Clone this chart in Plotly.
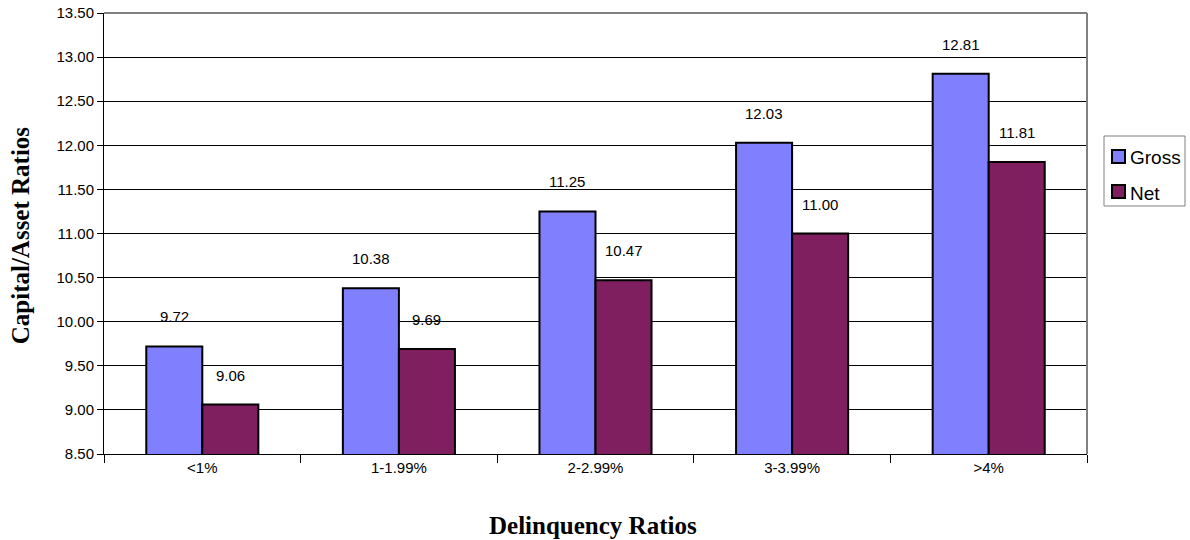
import plotly.graph_objects as go

categories = ["<1%", "1-1.99%", "2-2.99%", "3-3.99%", ">4%"]
gross = [9.72, 10.38, 11.25, 12.03, 12.81]
net = [9.06, 9.69, 10.47, 11.00, 11.81]
y_ticks = [8.5, 9.0, 9.5, 10.0, 10.5, 11.0, 11.5, 12.0, 12.5, 13.0, 13.5]

GROSS_COLOR = "#8080FF"
NET_COLOR = "#7F1F5F"
SANS = "Liberation Sans, Arial"
SERIF = "Liberation Serif, Times New Roman"

W, H = 1190, 540
M_L, M_R, M_T, M_B = 104, 103, 13, 86
PW, PH = W - M_L - M_R, H - M_T - M_B


def px_x(px):
    return (px - M_L) / PW


def px_y(py):
    return (H - M_B - py) / PH


fig = go.Figure()
fig.add_trace(go.Bar(x=categories, y=gross, name="Gross",
                     marker=dict(color=GROSS_COLOR, line=dict(color="black", width=2))))
fig.add_trace(go.Bar(x=categories, y=net, name="Net",
                     marker=dict(color=NET_COLOR, line=dict(color="black", width=2))))

# value labels above each bar (bars sit at +/- a quarter of the group width)
bar_half = 0.1425
annotations = []
for i, (g, n) in enumerate(zip(gross, net)):
    for off, v in ((-bar_half, g), (bar_half, n)):
        annotations.append(dict(x=i + off, y=v, xref="x", yref="y", text=f"{v:.2f}",
                                showarrow=False, yanchor="bottom", yshift=19,
                                font=dict(family=SANS, size=15, color="black")))

annotations.append(dict(x=-0.085, y=0.497, xref="paper", yref="paper", text="<b>Capital/Asset Ratios</b>",
                        textangle=-90, showarrow=False, xanchor="center", yanchor="middle",
                        font=dict(family=SERIF, size=25, color="black")))
annotations.append(dict(x=0.497, y=-0.163, xref="paper", yref="paper", text="<b>Delinquency Ratios</b>",
                        showarrow=False, xanchor="center", yanchor="middle",
                        font=dict(family=SERIF, size=25, color="black")))

# compact legend box at the right of the plot
shapes = [
    dict(type="line", xref="paper", yref="paper", x0=0, x1=1, y0=1, y1=1,
         line=dict(color="#808080", width=2)),
    dict(type="line", xref="paper", yref="paper", x0=1, x1=1, y0=0, y1=1,
         line=dict(color="#808080", width=2)),
    dict(type="rect", xref="paper", yref="paper",
         x0=px_x(1104), x1=px_x(1185), y0=px_y(206), y1=px_y(136),
         line=dict(color="#808080", width=1), fillcolor="white"),
]
for label, color, cy in (("Gross", GROSS_COLOR, 157), ("Net", NET_COLOR, 192)):
    shapes.append(dict(type="rect", xref="paper", yref="paper",
                       x0=px_x(1112), x1=px_x(1125), y0=px_y(cy + 6), y1=px_y(cy - 7),
                       line=dict(color="black", width=2), fillcolor=color))
    annotations.append(dict(x=px_x(1128), y=px_y(cy + 1), xref="paper", yref="paper", text=label,
                            showarrow=False, xanchor="left", yanchor="middle",
                            font=dict(family=SANS, size=19, color="black")))

fig.update_layout(
    width=W, height=H,
    margin=dict(l=M_L, r=M_R, t=M_T, b=M_B, autoexpand=False),
    paper_bgcolor="white", plot_bgcolor="white",
    barmode="group", bargap=0.43, bargroupgap=0,
    font=dict(family=SANS, size=15, color="black"),
    annotations=annotations,
    showlegend=False,
    xaxis=dict(type="category", showline=True, linecolor="black", linewidth=1,
               ticks="outside", tickson="boundaries", ticklen=8, tickcolor="black",
               showgrid=False, tickfont=dict(size=15)),
    yaxis=dict(range=[8.5, 13.5], tickvals=y_ticks, ticktext=[f"{t:.2f}" for t in y_ticks],
               showline=True, linecolor="black", linewidth=1,
               ticks="outside", ticklen=6, tickcolor="black",
               showgrid=True, gridcolor="black", gridwidth=1, zeroline=False,
               tickfont=dict(size=15)),
    shapes=shapes,
)

fig.write_html("out.html")
